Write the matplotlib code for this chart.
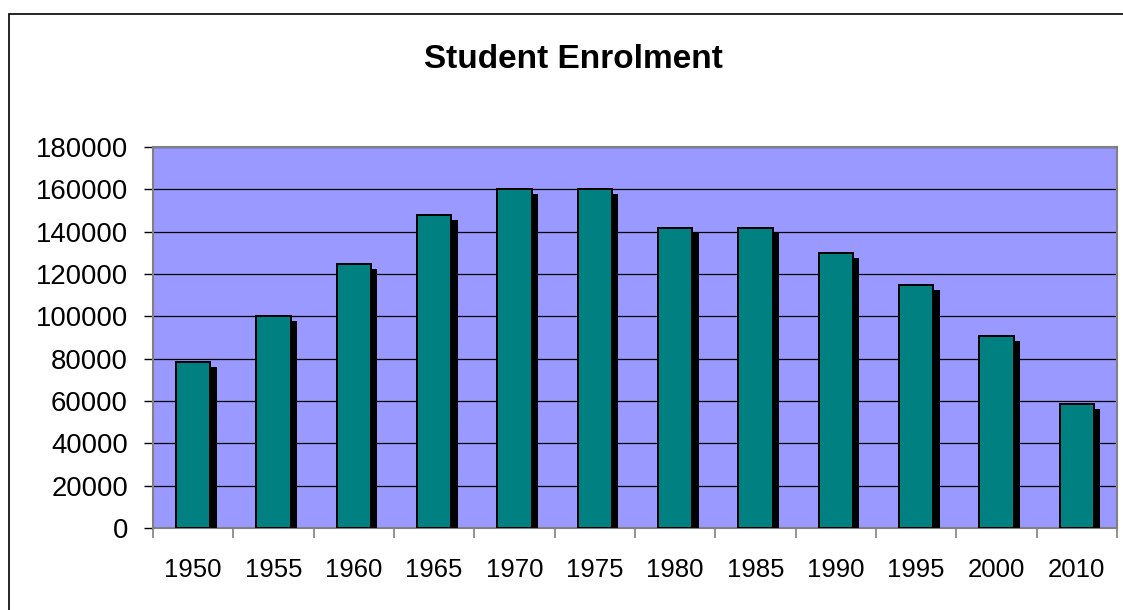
import matplotlib
matplotlib.use('Agg')
import matplotlib.pyplot as plt
import matplotlib.patheffects as pe
from matplotlib.patches import Rectangle
import numpy as np

plt.rcParams['font.family'] = ['Liberation Sans', 'DejaVu Sans']

years = ['1950', '1955', '1960', '1965', '1970', '1975', '1980', '1985', '1990', '1995', '2000', '2010']
enrolment = [78500, 100000, 124500, 148000, 160000, 160000, 141500, 141500, 130000, 115000, 90500, 58500]
y_ticks = [0, 20000, 40000, 60000, 80000, 100000, 120000, 140000, 160000, 180000]

fig = plt.figure(figsize=(11.23, 6.10), dpi=100)
ax = fig.add_axes([153 / 1123, 82 / 610, 964 / 1123, 381 / 610])

# outer chart border (only left/top visible in the reference)
fig.patches.append(Rectangle((9 / 1123, -0.05), 1.2, (610 - 14) / 610 + 0.05,
                             transform=fig.transFigure, fill=False,
                             edgecolor='black', lw=1.2))

x = np.arange(len(years))
shadow = [pe.SimplePatchShadow(offset=(4.5, -3.6), shadow_rgbFace='black', alpha=1.0), pe.Normal()]
bars = ax.bar(x, enrolment, width=0.43, color='#008080', edgecolor='black', lw=1.4, zorder=3)
for b in bars:
    b.set_path_effects(shadow)

ax.set_facecolor('#9999FF')
ax.set_xlim(-0.5, len(years) - 0.5)
ax.set_ylim(0, 180000)
ax.set_yticks(y_ticks)
ax.set_yticklabels([str(v) for v in y_ticks])
ax.yaxis.grid(True, color='black', lw=0.9)
ax.set_axisbelow(True)

ax.set_xticks(np.arange(len(years) + 1) - 0.5)
ax.set_xticklabels([])
ax.set_xticks(x, minor=True)
ax.set_xticklabels(years, minor=True)
ax.tick_params(axis='x', which='minor', length=0, pad=21.5, labelsize=18.5)
ax.tick_params(axis='x', which='major', length=7, width=1.2, color='#808080')
ax.tick_params(axis='y', length=6.5, width=1.0, color='black', pad=11.5, labelsize=19.8)

for s in ax.spines.values():
    s.set_color('#808080')
    s.set_linewidth(1.5)

fig.text(573 / 1123, 1 - 59 / 610, 'Student Enrolment', ha='center', va='center',
         fontsize=24, fontweight='bold')

fig.savefig('out.png', dpi=100)
